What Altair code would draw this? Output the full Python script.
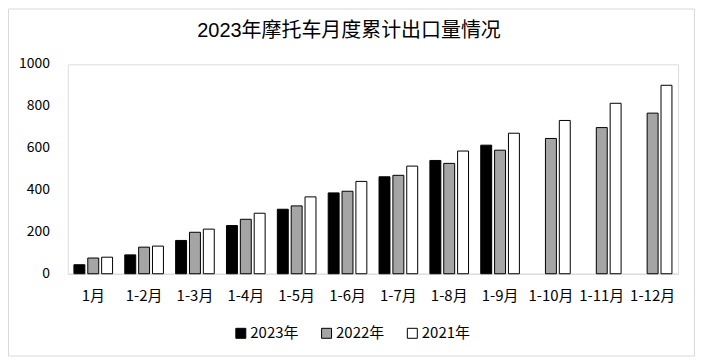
import altair as alt
import pandas as pd

title_text = "2023年摩托车月度累计出口量情况"
categories = ["1月", "1-2月", "1-3月", "1-4月", "1-5月", "1-6月", "1-7月", "1-8月", "1-9月", "1-10月", "1-11月", "1-12月"]
series_names = ["2023年", "2022年", "2021年"]
v2023 = [43, 90, 159, 230, 308, 386, 463, 541, 614, None, None, None]
v2022 = [75, 127, 198, 260, 324, 394, 470, 527, 590, 646, 698, 767]
v2021 = [79, 132, 213, 289, 367, 441, 514, 586, 671, 732, 814, 900]
y_ticks = [0, 200, 400, 600, 800, 1000]
colors = ["#000000", "#A5A5A5", "#FFFFFF"]

rows = []
for name, vals in zip(series_names, [v2023, v2022, v2021]):
    for c, v in zip(categories, vals):
        if v is not None:
            rows.append({"cat": c, "series": name, "value": v})
df = pd.DataFrame(rows)

FONT = "Noto Sans CJK SC"
TFONT = "Liberation Sans, Noto Sans CJK SC"

yscale = alt.Scale(domain=[0, 1000])

bars = alt.Chart(df).mark_bar(stroke="#000000", strokeWidth=1).encode(
    x=alt.X("cat:N", sort=categories, title=None,
            scale=alt.Scale(paddingInner=0.24, paddingOuter=0.12),
            axis=alt.Axis(labelAngle=0, ticks=False, domainColor="#D9D9D9",
                          labelPadding=15, labelFontSize=15, labelColor="#000000",
                          labelFont=FONT, grid=False)),
    xOffset=alt.XOffset("series:N", sort=series_names,
                        scale=alt.Scale(paddingInner=0.21, paddingOuter=0)),
    y=alt.Y("value:Q", title=None, scale=yscale, axis=None),
    color=alt.Color("series:N", sort=series_names,
                    scale=alt.Scale(domain=series_names, range=colors),
                    legend=alt.Legend(title=None, orient="none", direction="horizontal",
                                      legendX=166, legendY=262, symbolType="square",
                                      symbolSize=100, symbolStrokeColor="#000000",
                                      symbolStrokeWidth=1, labelFontSize=15,
                                      labelFont=FONT, labelColor="#000000",
                                      columnPadding=20, labelOffset=2)),
)

ylabels = alt.Chart(pd.DataFrame({"v": y_ticks})).mark_text(
    font=FONT, fontSize=14, color="#000000", align="right", baseline="middle"
).encode(
    y=alt.Y("v:Q", scale=yscale, axis=None),
    x=alt.value(-18),
    text=alt.Text("v:Q", format="d"),
)

frame = alt.Chart(pd.DataFrame({"k": [0]})).mark_rect(
    fill="transparent", stroke="#D9D9D9", strokeWidth=1
).encode(
    x=alt.value(-59.5), x2=alt.value(628.5), y=alt.value(-55.5), y2=alt.value(292.5)
)

title = alt.Chart(pd.DataFrame({"t": [title_text]})).mark_text(
    font=TFONT, fontSize=20, color="#000000", align="center", baseline="middle"
).encode(text="t:N", x=alt.value(282), y=alt.value(-33))

chart = alt.layer(frame, bars, ylabels, title).properties(
    width=612,
    height=210,
    autosize=alt.AutoSizeParams(type="none"),
    padding={"left": 60, "top": 56, "right": 17, "bottom": 83},
).configure_view(stroke="transparent", strokeWidth=0
).configure_axis(grid=False).configure(background="#FFFFFF")

chart.save("out.html", embed_options={"renderer": "svg", "actions": False})
